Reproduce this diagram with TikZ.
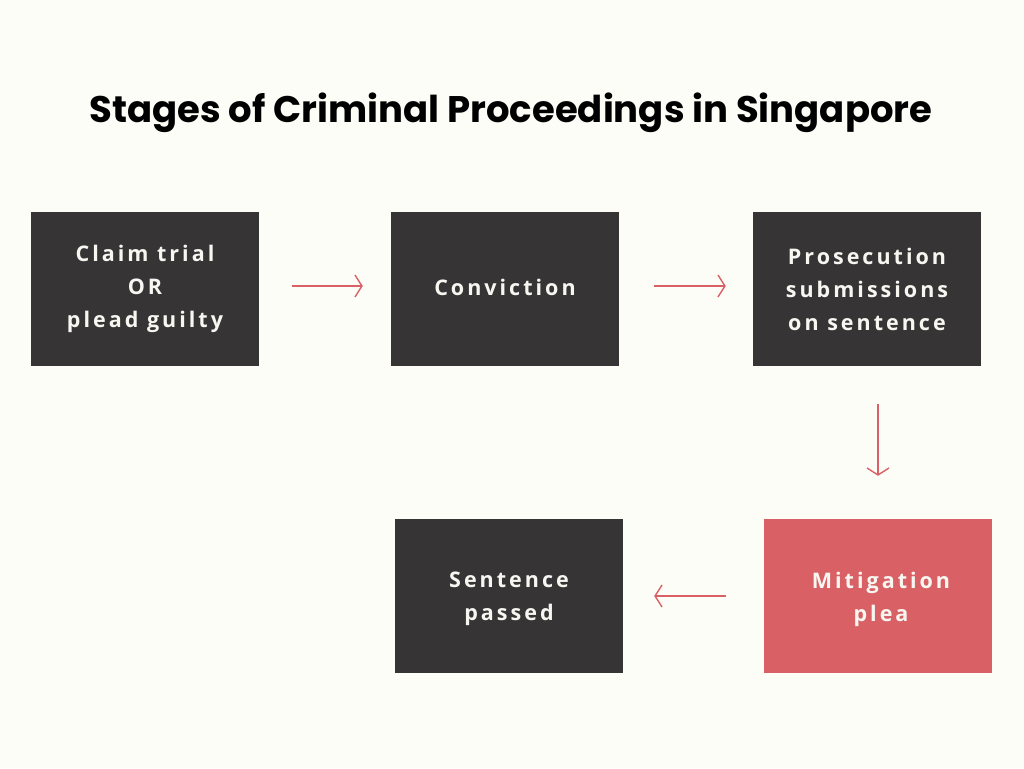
\documentclass[tikz,border=0pt]{standalone}
\usepackage{fontspec}
\usetikzlibrary{arrows.meta,calc}
\newfontfamily\titlefont{Poppins}
\newfontfamily\boxfont[LetterSpace=14.0]{Open Sans}
\definecolor{bgcol}{HTML}{FDFDF7}
\definecolor{darkbox}{HTML}{363435}
\definecolor{redcol}{HTML}{D96166}
\definecolor{txtcol}{HTML}{F7F7F2}
\tikzset{
  boxtext/.style={text=txtcol, align=center, font=\boxfont\bfseries\fontsize{21.5}{33}\selectfont},
  stagebox/.style={rectangle, fill=darkbox, minimum width=228pt, minimum height=154pt,
    inner sep=0pt, boxtext},
  redbox/.style={stagebox, fill=redcol},
  flow/.style={draw=redcol, line width=1.4pt, -{Straight Barb[length=7pt,width=22pt,line width=1.4pt]}}
}
\begin{document}
\begin{tikzpicture}[x=1pt,y=-1pt]
\fill[bgcol] (0,0) rectangle (1024,768);
\useasboundingbox (0,0) rectangle (1024,768);
\node[font=\titlefont\bfseries\fontsize{37}{42}\selectfont, text=black] (title) at (511,113) {Stages of Criminal Proceedings in Singapore};
\node[stagebox] (b1) at (145,289) {Claim trial\\OR\\plead guilty};
\node[stagebox, label={[boxtext, yshift=2pt]center:Conviction}] (b2) at (505,289) {};
\node[stagebox] (b3) at (867,289) {Prosecution\\submissions\\on sentence};
\node[stagebox, label={[boxtext, yshift=-3pt]center:{Sentence\\passed}}] (b4) at (509,596) {};
\node[redbox, label={[boxtext, yshift=-3pt, xshift=3pt]center:{Mitigation\\plea}}] (b5) at (878,596) {};
\draw[flow, shorten <=33pt, shorten >=28pt] ([yshift=3pt]b1.east) -- ([yshift=3pt]b2.west);
\draw[flow, shorten <=35pt, shorten >=27pt] ([yshift=3pt]b2.east) -- ([yshift=3pt]b3.west);
\draw[flow, shorten <=38pt, shorten >=43pt] (b5.north |- b3.south) -- (b5.north);
\draw[flow, shorten <=38pt, shorten >=31pt] (b5.west) -- (b4.east);
\end{tikzpicture}
\end{document}
